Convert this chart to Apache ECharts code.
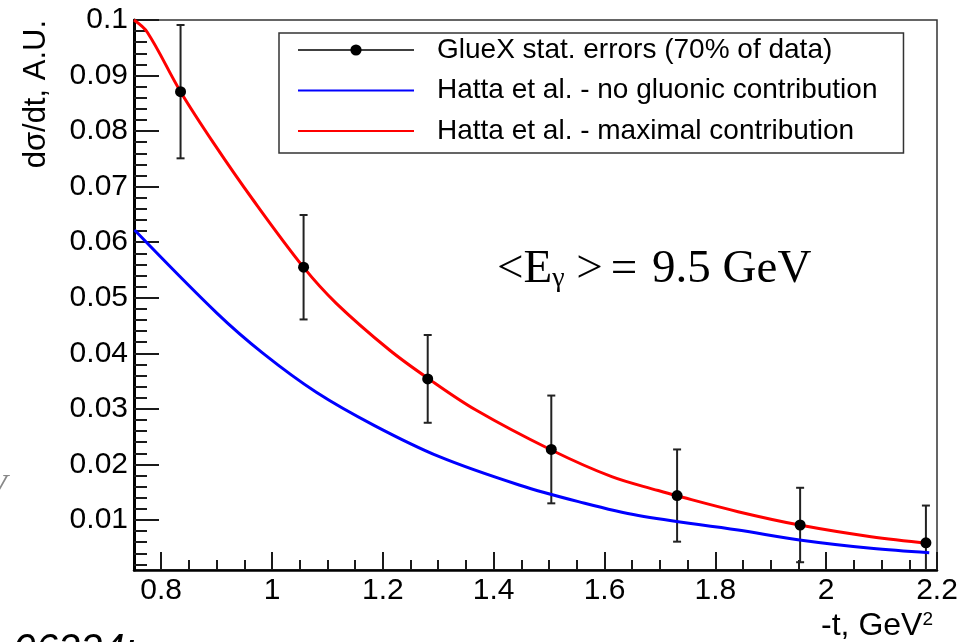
<!DOCTYPE html>
<html>
<head>
<meta charset="utf-8">
<script src="https://cdn.jsdelivr.net/npm/echarts@6/dist/echarts.min.js"></script>
<style>html,body{margin:0;padding:0;background:#fff;}#c{width:961px;height:642px;}</style>
</head>
<body>
<div id="c"></div>
<script>
// ---- data ----
const xTicks = [0.8, 1, 1.2, 1.4, 1.6, 1.8, 2, 2.2];
const yTicks = [0.01, 0.02, 0.03, 0.04, 0.05, 0.06, 0.07, 0.08, 0.09, 0.1];

const gluexT   = [0.835, 1.057, 1.281, 1.504, 1.731, 1.953, 2.180];
const gluexY   = [0.0871, 0.0555, 0.0354, 0.0227, 0.0144, 0.0091, 0.0059];
const gluexErr = [0.0120, 0.0094, 0.0079, 0.0097, 0.0083, 0.0067, 0.0067];

const redT = [0.751, 0.775, 0.835, 0.895, 0.966, 1.056, 1.116, 1.212, 1.283, 1.368, 1.504, 1.613, 1.697, 1.729, 1.841, 1.952, 2.081, 2.186];
const redY = [0.1, 0.0978, 0.0871, 0.0778, 0.0676, 0.0556, 0.0490, 0.0406, 0.0354, 0.0298, 0.0226, 0.0178, 0.0153, 0.0144, 0.0115, 0.0091, 0.0070, 0.0058];

const blueT = [0.752, 0.901, 0.984, 1.080, 1.185, 1.302, 1.446, 1.553, 1.661, 1.841, 1.952, 2.081, 2.186];
const blueY = [0.0622, 0.0472, 0.0400, 0.0330, 0.0270, 0.0214, 0.0163, 0.0133, 0.0108, 0.0082, 0.0064, 0.0049, 0.0041];

const names = ['GlueX stat. errors (70% of data)', 'Hatta et al. - no gluonic contribution', 'Hatta et al. - maximal contribution'];

// ---- axis ranges ----
const X_MIN = 0.751, X_MAX = 2.2, Y_MIN = 0.001, Y_MAX = 0.1;

const xMinor = [];
for (let k = 15; k <= 44; k++) { if (k % 4 === 0) continue; const v = +(k * 0.05).toFixed(3); if (v >= X_MIN && v <= X_MAX) xMinor.push(v); }
const yMinor = [];
for (let k = 1; k <= 50; k++) { if (k % 5 === 0) continue; const v = +(k * 0.002).toFixed(4); if (v >= Y_MIN && v <= Y_MAX) yMinor.push(v); }

const SANS = '"Liberation Sans", Arial, Helvetica, sans-serif';
const SERIF = '"Liberation Serif", "DejaVu Serif", serif';

const chart = echarts.init(document.getElementById('c'), null, {renderer: 'canvas'});
const tickStyle = {color: '#1a1a1a', width: 2};

const option = {
  animation: false,
  backgroundColor: '#fff',
  grid: {left: 134, right: 24, top: 20, bottom: 72, show: true, borderColor: '#333', borderWidth: 1.5, containLabel: false, outerBoundsMode: 'none'},
  xAxis: [
    {type: 'value', min: X_MIN, max: X_MAX, position: 'bottom',
     axisLine: {show: true, onZero: false, lineStyle: {color: '#000', width: 2.5}},
     axisTick: {show: true, inside: true, length: 18, customValues: xTicks, lineStyle: tickStyle},
     axisLabel: {show: true, customValues: xTicks, margin: 6, fontSize: 30, fontFamily: SANS, color: '#000', formatter: v => String(v)},
     splitLine: {show: false}},
    {type: 'value', min: X_MIN, max: X_MAX, position: 'bottom',
     axisLine: {show: false},
     axisTick: {show: true, inside: true, length: 10, customValues: xMinor, lineStyle: tickStyle},
     axisLabel: {show: false}, splitLine: {show: false}}
  ],
  yAxis: [
    {type: 'value', min: Y_MIN, max: Y_MAX, position: 'left',
     axisLine: {show: true, onZero: false, lineStyle: {color: '#000', width: 3}},
     axisTick: {show: true, inside: true, length: 25, customValues: yTicks, lineStyle: tickStyle},
     axisLabel: {show: true, customValues: yTicks, margin: 6, fontSize: 30, fontFamily: SANS, color: '#000', formatter: v => String(v)},
     splitLine: {show: false}},
    {type: 'value', min: Y_MIN, max: Y_MAX, position: 'left',
     axisLine: {show: false},
     axisTick: {show: true, inside: true, length: 13, customValues: yMinor, lineStyle: tickStyle},
     axisLabel: {show: false}, splitLine: {show: false}}
  ],
  legend: {
    orient: 'vertical', left: 279, top: 33,
    padding: [2, 26, 7, 18],
    itemWidth: 116, itemHeight: 14, itemGap: 10.5,
    borderColor: '#333', borderWidth: 1.5, backgroundColor: '#fff',
    selectedMode: false,
    textStyle: {fontSize: 28, fontFamily: SANS, color: '#000', lineHeight: 30, padding: [0, 0, 0, 18]},
    data: [
      {name: names[0], lineStyle: {color: '#000', width: 1.5, opacity: 1}},
      {name: names[1], itemStyle: {opacity: 0}},
      {name: names[2], itemStyle: {opacity: 0}}
    ]
  },
  graphic: [
    {type: 'text', x: 36, y: 20, rotation: Math.PI / 2, silent: true,
     style: {text: 'dσ/dt, A.U.', fontSize: 31, fontFamily: SANS, fill: '#000', align: 'right', verticalAlign: 'middle'}},
    {type: 'text', x: 933, y: 626, silent: true,
     style: {text: '{a|-t, GeV}{b|2}', align: 'right', verticalAlign: 'middle',
       rich: {a: {fontSize: 32, fontFamily: SANS, fill: '#000', lineHeight: 32},
              b: {fontSize: 19, fontFamily: SANS, fill: '#000', lineHeight: 19, verticalAlign: 'top'}}}},
    {type: 'text', x: 497, y: 270, silent: true,
     style: {text: '{m|<E}{s|γ}{m| >}{q|=}{m| 9.5 GeV}', align: 'left', verticalAlign: 'middle',
       rich: {m: {fontSize: 47, fontFamily: SERIF, fill: '#000', lineHeight: 46},
              q: {fontSize: 47, fontFamily: SERIF, fill: '#000', lineHeight: 46, padding: [0, 3, 0, 8]},
              s: {fontSize: 28, fontFamily: SERIF, fill: '#000', lineHeight: 12, verticalAlign: 'bottom'}}}},
    {type: 'text', x: -14, y: 488, silent: true,
     style: {text: 'V', fontSize: 34, fontStyle: 'italic', fontFamily: SERIF, fill: '#888', verticalAlign: 'middle'}},
    {type: 'text', x: -20, y: 631, silent: true,
     style: {text: 'e 06224:', fontSize: 40, fontStyle: 'italic', fontFamily: SANS, fill: '#000', verticalAlign: 'top'}}
  ],
  series: [
    {type: 'custom', name: 'errors', xAxisIndex: 0, yAxisIndex: 0, clip: true,
     data: gluexT.map((t, i) => [t, gluexY[i], gluexErr[i]]),
     renderItem: function (params, api) {
       const x = api.value(0), y = api.value(1), e = api.value(2);
       const top = api.coord([x, y + e]);
       const bot = api.coord([x, y - e]);
       const hw = 4;
       const st = {stroke: '#222', lineWidth: 2};
       return {type: 'group', children: [
         {type: 'line', shape: {x1: top[0], y1: top[1], x2: bot[0], y2: bot[1]}, style: st},
         {type: 'line', shape: {x1: top[0] - hw, y1: top[1], x2: top[0] + hw, y2: top[1]}, style: st},
         {type: 'line', shape: {x1: bot[0] - hw, y1: bot[1], x2: bot[0] + hw, y2: bot[1]}, style: st}
       ]};
     }},
    {type: 'line', name: names[0], xAxisIndex: 0, yAxisIndex: 0,
     data: gluexT.map((t, i) => [t, gluexY[i]]),
     symbol: 'circle', symbolSize: 11, showSymbol: true,
     itemStyle: {color: '#000'}, lineStyle: {color: '#000', width: 1.5, opacity: 0}},
    {type: 'line', name: names[1], xAxisIndex: 0, yAxisIndex: 0,
     data: blueT.map((t, i) => [t, blueY[i]]),
     symbol: 'none', smooth: 0.35,
     itemStyle: {color: '#0000ff'}, lineStyle: {color: '#0000ff', width: 3}},
    {type: 'line', name: names[2], xAxisIndex: 0, yAxisIndex: 0,
     data: redT.map((t, i) => [t, redY[i]]),
     symbol: 'none', smooth: 0.35,
     itemStyle: {color: '#ff0000'}, lineStyle: {color: '#ff0000', width: 3}}
  ]
};
chart.setOption(option);
</script>
</body>
</html>
